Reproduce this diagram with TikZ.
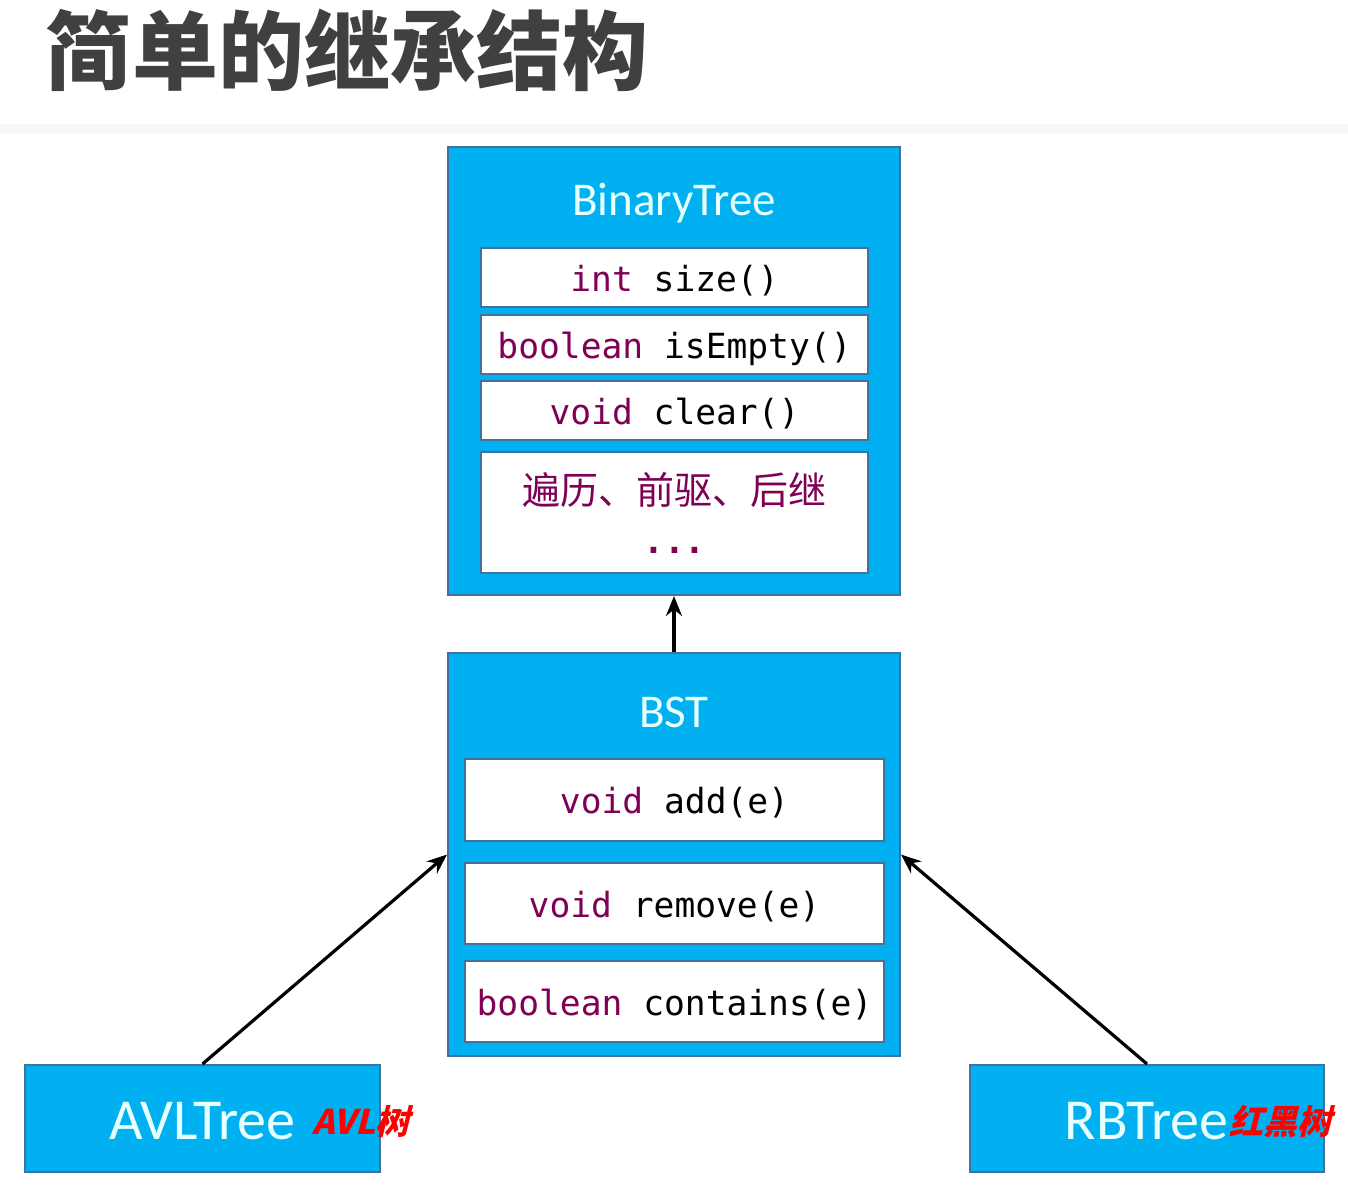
\documentclass[tikz,border=0pt]{standalone}
\usepackage{fontspec}
\usetikzlibrary{arrows.meta}
\newfontfamily\cjk{Noto Sans CJK SC}
\newfontfamily\cjkslant{Noto Sans CJK SC}[FakeSlant=0.25]
\newfontfamily\boxfont{Carlito}
\newfontfamily\codefont{DejaVu Sans Mono}
\definecolor{boxfill}{RGB}{0,176,240}
\definecolor{boxline}{RGB}{65,113,156}
\definecolor{kwcolor}{RGB}{127,0,85}
\definecolor{headgray}{RGB}{64,64,64}
\definecolor{namewhite}{RGB}{230,255,255}
\newcommand{\keyword}[1]{\textcolor{kwcolor}{#1}}
\tikzset{
	classbox/.style={draw=boxline, fill=boxfill, line width=1pt, inner sep=0pt},
	methodbox/.style={draw=boxline, fill=white, line width=0.75pt, inner sep=0pt},
	classname/.style={text=namewhite, font=\boxfont\fontsize{23.5}{28}\selectfont},
	leafname/.style={text=namewhite, font=\boxfont\fontsize{29}{34}\selectfont},
	method/.style={font=\codefont\fontsize{17.3}{20}\selectfont, text height=16pt, text depth=2.2pt},
	cnnote/.style={text=red, font=\cjkslant\bfseries\fontsize{17}{20}\selectfont},
	inherit/.style={line width=1.6pt, -{Stealth[length=10pt,width=8pt]}}
}
\begin{document}
\begin{tikzpicture}[x=0.5pt, y=-0.5pt]
		\useasboundingbox (0,0) rectangle (1348,1186);
		\fill[black!3] (0,124) rectangle (1348,134);
		\node[text=headgray, font=\cjk\bfseries\fontsize{43}{50}\selectfont] (title) at (347,50) {简单的继承结构};
		\node[classbox, minimum width=226pt, minimum height=224pt] (bt) at (674,371) {};
		\node[classname] (btname) at (674,203) {BinaryTree};
		\node[methodbox, method, minimum width=193.5pt, minimum height=29.5pt] (size) at (674.5,277.5) {\keyword{int} size()};
		\node[methodbox, method, minimum width=193.5pt, minimum height=29.5pt] (empty) at (674.5,344.5) {\keyword{boolean} isEmpty()};
		\node[methodbox, method, minimum width=193.5pt, minimum height=29.5pt] (clear) at (674.5,410.5) {\keyword{void} clear()};
		\node[methodbox, minimum width=193.5pt, minimum height=60.5pt] (trav) at (674.5,512.5) {};
		\node[text=kwcolor, font=\cjk\fontsize{19}{22}\selectfont] (travtxt) at (674.5,490) {遍历、前驱、后继};
		\node[text=kwcolor, method, font=\codefont\bfseries\fontsize{17.3}{20}\selectfont] (dots) at (674.5,540) {...};
		\node[classbox, minimum width=226pt, minimum height=201.5pt] (bst) at (674,854.5) {};
		\node[classname] (bstname) at (674,712) {BST};
		\node[methodbox, method, minimum width=209.5pt, minimum height=41pt] (add) at (674.5,800) {\keyword{void} add(e)};
		\node[methodbox, method, minimum width=209.5pt, minimum height=40.5pt] (remove) at (674.5,903.5) {\keyword{void} remove(e)};
		\node[methodbox, method, minimum width=209.5pt, minimum height=40.5pt] (contains) at (674.5,1001.5) {\keyword{boolean} contains(e)};
		\node[classbox, minimum width=177.5pt, minimum height=53.5pt] (avl) at (202.5,1118.5) {};
		\node[leafname] (avlname) at (202.5,1121) {AVLTree};
		\node[cnnote] (avlnote) at (361,1122) {AVL树};
		\node[classbox, minimum width=177pt, minimum height=53.5pt] (rb) at (1147,1118.5) {};
		\node[leafname] (rbname) at (1146.5,1121) {RBTree};
		\node[cnnote] (rbnote) at (1280,1122) {红黑树};
		\draw[inherit] (bst.north) -- (bt.south);
		\draw[inherit] (avl.north) -- (bst.west);
		\draw[inherit] (rb.north) -- (bst.east);
\end{tikzpicture}
\end{document}
